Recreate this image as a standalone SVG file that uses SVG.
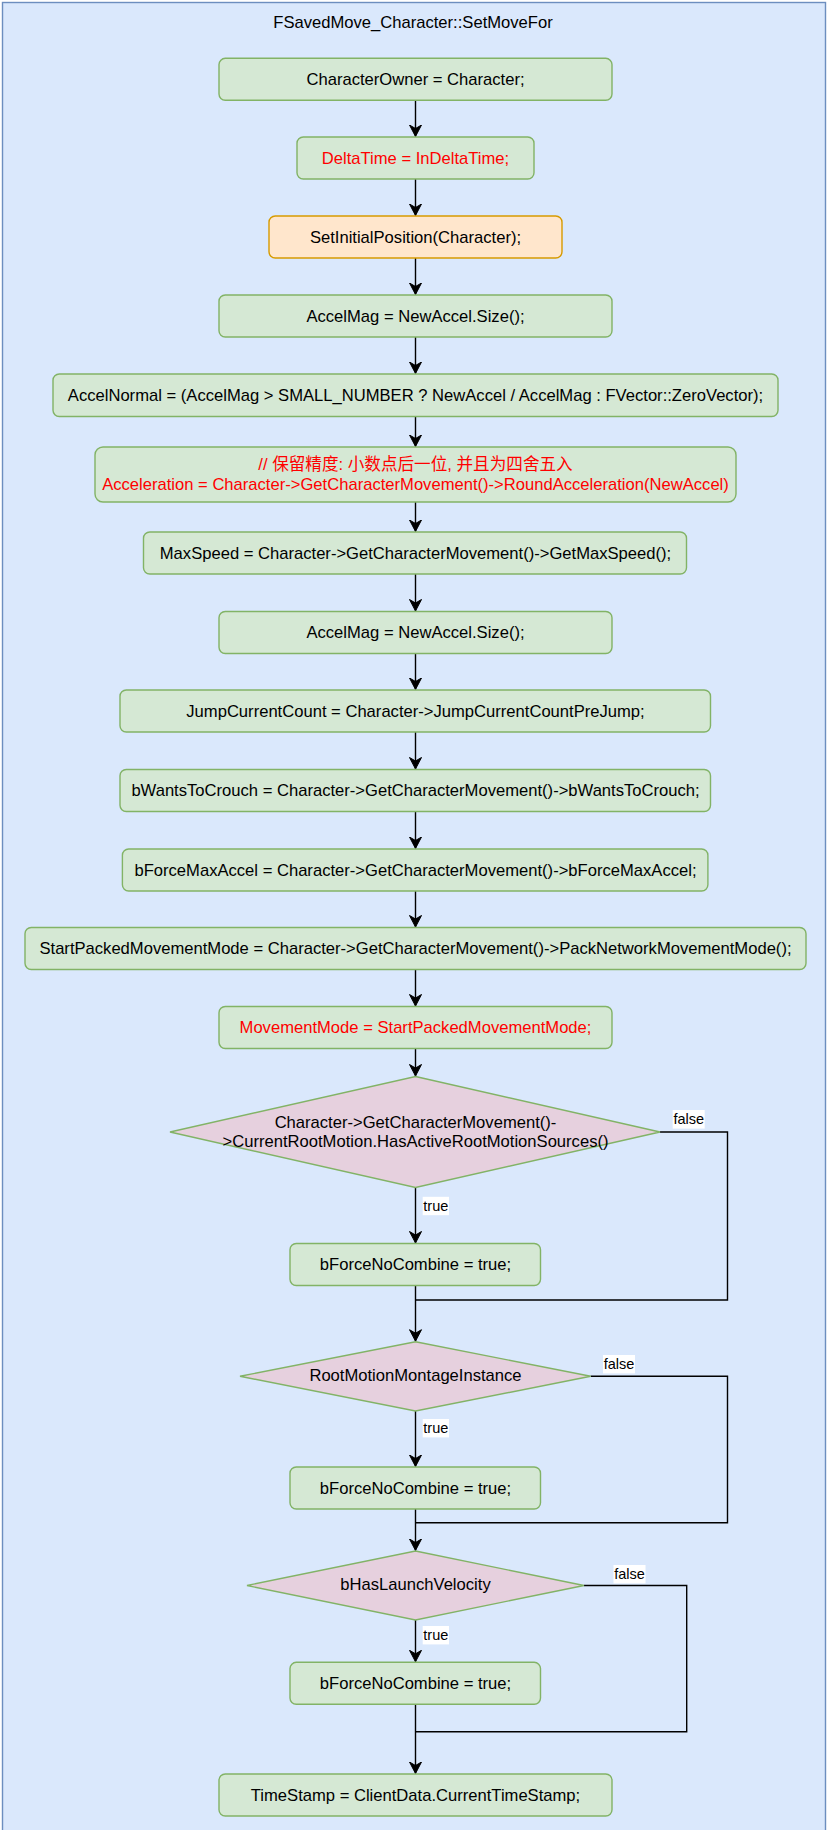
<svg xmlns="http://www.w3.org/2000/svg" width="827" height="1830" viewBox="0 0 827 1830">
<style>
text{font-family:"Liberation Sans",Arial,"Noto Sans CJK SC",sans-serif;font-size:16.6px;fill:#000;text-anchor:middle;dominant-baseline:central}
.red{fill:#ff0000}
.box{fill:#d5e8d4;stroke:#82b366;stroke-width:1.4}
.org{fill:#ffe6cc;stroke:#d79b00;stroke-width:1.4}
.dia{fill:#e6d0de;stroke:#82b366;stroke-width:1.4}
.e{fill:none;stroke:#000;stroke-width:1.4}
.ea{fill:none;stroke:#000;stroke-width:1.4;marker-end:url(#arr)}
.lb{fill:#fff}
.lt{font-size:14.5px}
</style>
<defs>
<marker id="arr" markerUnits="userSpaceOnUse" viewBox="-12 -7 13 14" markerWidth="13" markerHeight="14" refX="0" refY="0" orient="auto">
<path d="M0,0 L-11.5,-6 L-8,0 L-11.5,6 Z" fill="#000" stroke="#000" stroke-width="1"/>
</marker>
</defs>
<rect x="0" y="0" width="827" height="1830" fill="#ffffff"/>
<g id="container">
<rect x="2.5" y="2.5" width="823" height="1840" fill="#dae8fc" stroke="#6c8ebf" stroke-width="1.4"/>
<text x="413" y="22">FSavedMove_Character::SetMoveFor</text>
</g>
<g id="connectors">
<path class="ea" d="M415.5,100 V136.5"/>
<path class="ea" d="M415.5,179 V215.5"/>
<path class="ea" d="M415.5,258 V294.5"/>
<path class="ea" d="M415.5,337 V373.5"/>
<path class="ea" d="M415.5,416 V446.5"/>
<path class="ea" d="M415.5,502 V531.5"/>
<path class="ea" d="M415.5,574 V611"/>
<path class="ea" d="M415.5,653.5 V689.5"/>
<path class="ea" d="M415.5,732 V769"/>
<path class="ea" d="M415.5,811.5 V848.5"/>
<path class="ea" d="M415.5,891 V927"/>
<path class="ea" d="M415.5,969.5 V1006"/>
<path class="ea" d="M415.5,1048.5 V1076"/>
<path class="ea" d="M415.5,1187.5 V1243"/>
<path class="e" d="M660,1132 H727.5 V1300 H415.5"/>
<path class="ea" d="M415.5,1285.5 V1341.2"/>
<path class="ea" d="M415.5,1411 V1466.5"/>
<path class="e" d="M590.7,1376.3 H727.5 V1522.7 H415.5"/>
<path class="ea" d="M415.5,1509 V1550.5"/>
<path class="ea" d="M415.5,1620 V1661.8"/>
<path class="e" d="M584,1585.5 H686.7 V1731.7 H415.5"/>
<path class="ea" d="M415.5,1704.3 V1773.5"/>
<g id="edge-labels">
<rect class="lb" x="422.7" y="1196.8" width="26.3" height="18.4"/>
<text class="lt" x="435.8" y="1206">true</text>
<rect class="lb" x="672.7" y="1110" width="32" height="18.6"/>
<text class="lt" x="688.7" y="1119.3">false</text>
<rect class="lb" x="422.7" y="1419" width="26.3" height="18.4"/>
<text class="lt" x="435.8" y="1428.2">true</text>
<rect class="lb" x="603" y="1355" width="32" height="18.4"/>
<text class="lt" x="619" y="1364.2">false</text>
<rect class="lb" x="422.7" y="1626" width="26.3" height="18.4"/>
<text class="lt" x="435.8" y="1635.2">true</text>
<rect class="lb" x="613.5" y="1565" width="32" height="18.4"/>
<text class="lt" x="629.5" y="1574.2">false</text>
</g>
</g>
<g id="n1"><rect class="box" x="219" y="58.3" width="393" height="42" rx="6.3"/><text x="415.5" y="79.3">CharacterOwner = Character;</text></g>
<g id="n2"><rect class="box" x="297" y="137" width="237" height="42" rx="6.3"/><text class="red" x="415.5" y="158">DeltaTime = InDeltaTime;</text></g>
<g id="n3"><rect class="org" x="269" y="216" width="293" height="42" rx="6.3"/><text x="415.5" y="237">SetInitialPosition(Character);</text></g>
<g id="n4"><rect class="box" x="219" y="295" width="393" height="42" rx="6.3"/><text x="415.5" y="316">AccelMag = NewAccel.Size();</text></g>
<g id="n5"><rect class="box" x="53" y="374" width="725" height="42.5" rx="6.3"/><text x="415.5" y="395.3">AccelNormal = (AccelMag &gt; SMALL_NUMBER ? NewAccel / AccelMag : FVector::ZeroVector);</text></g>
<g id="n6"><rect class="box" x="95" y="447" width="641" height="55" rx="8"/><text class="red" x="415.5" y="464.5">// 保留精度: 小数点后一位, 并且为四舍五入</text><text class="red" x="415.5" y="484.3">Acceleration = Character-&gt;GetCharacterMovement()-&gt;RoundAcceleration(NewAccel)</text></g>
<g id="n7"><rect class="box" x="143.5" y="532" width="543" height="42" rx="6.3"/><text x="415.5" y="553">MaxSpeed = Character-&gt;GetCharacterMovement()-&gt;GetMaxSpeed();</text></g>
<g id="n8"><rect class="box" x="219" y="611.5" width="393" height="42" rx="6.3"/><text x="415.5" y="632.5">AccelMag = NewAccel.Size();</text></g>
<g id="n9"><rect class="box" x="120" y="690" width="590.5" height="42" rx="6.3"/><text x="415.5" y="711">JumpCurrentCount = Character-&gt;JumpCurrentCountPreJump;</text></g>
<g id="n10"><rect class="box" x="120" y="769.5" width="590.5" height="42" rx="6.3"/><text x="415.5" y="790.5">bWantsToCrouch = Character-&gt;GetCharacterMovement()-&gt;bWantsToCrouch;</text></g>
<g id="n11"><rect class="box" x="122.4" y="849" width="585.5" height="42" rx="6.3"/><text x="415.5" y="870">bForceMaxAccel = Character-&gt;GetCharacterMovement()-&gt;bForceMaxAccel;</text></g>
<g id="n12"><rect class="box" x="25" y="927.5" width="781" height="42" rx="6.3"/><text x="415.5" y="948.5">StartPackedMovementMode = Character-&gt;GetCharacterMovement()-&gt;PackNetworkMovementMode();</text></g>
<g id="n13"><rect class="box" x="219" y="1006.5" width="393" height="42" rx="6.3"/><text class="red" x="415.5" y="1027.5">MovementMode = StartPackedMovementMode;</text></g>
<g id="d1"><path class="dia" d="M415.5,1076.5 L660,1132 L415.5,1187.5 L170,1132 Z"/><text x="415.5" y="1122">Character-&gt;GetCharacterMovement()-</text><text x="415.5" y="1141.5">&gt;CurrentRootMotion.HasActiveRootMotionSources()</text></g>
<g id="n14"><rect class="box" x="290" y="1243.5" width="250.5" height="42" rx="6.3"/><text x="415.5" y="1264.5">bForceNoCombine = true;</text></g>
<g id="d2"><path class="dia" d="M415.5,1341.7 L590.7,1376.3 L415.5,1411 L240,1376.3 Z"/><text x="415.5" y="1375.5">RootMotionMontageInstance</text></g>
<g id="n15"><rect class="box" x="290" y="1467" width="250.5" height="42" rx="6.3"/><text x="415.5" y="1488">bForceNoCombine = true;</text></g>
<g id="d3"><path class="dia" d="M415.5,1551 L584,1585.5 L415.5,1620 L247,1585.5 Z"/><text x="415.5" y="1584.5">bHasLaunchVelocity</text></g>
<g id="n16"><rect class="box" x="290" y="1662.3" width="250.5" height="42" rx="6.3"/><text x="415.5" y="1683.3">bForceNoCombine = true;</text></g>
<g id="n17"><rect class="box" x="219" y="1774" width="393" height="42" rx="6.3"/><text x="415.5" y="1795">TimeStamp = ClientData.CurrentTimeStamp;</text></g>
</svg>
